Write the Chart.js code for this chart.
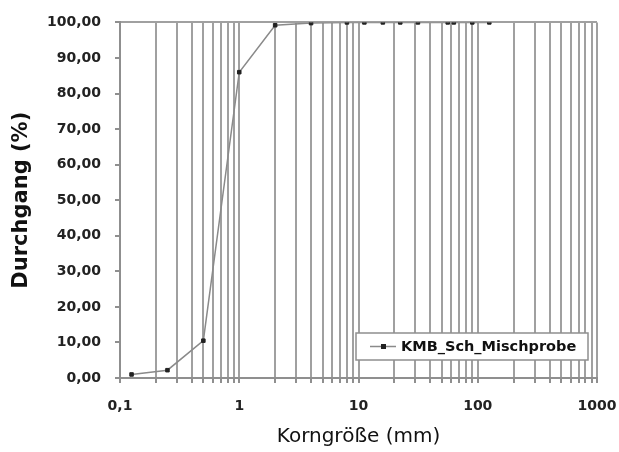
<!DOCTYPE html>
<html>
<head>
<meta charset="utf-8">
<script src="https://cdn.jsdelivr.net/npm/chart.js@4/dist/chart.umd.min.js"></script>
<style>
  html, body { margin: 0; padding: 0; background: #ffffff; }
  #wrap { width: 619px; height: 452px; }
</style>
</head>
<body>
<div id="wrap"><canvas id="chart" width="619" height="452"></canvas></div>
<script>
// Sieve analysis: passing percentage per grain size (mm)
const seriesName = 'KMB_Sch_Mischprobe';
const grainSizes = [0.125, 0.25, 0.5, 1, 2, 4, 8, 11.2, 16, 22.4, 31.5, 56, 63, 90, 125];
const passing    = [1.0, 2.2, 10.5, 86.0, 99.2, 99.8, 100, 100, 100, 100, 100, 100, 100, 100, 100];

// Axis ranges and tick labels
const xMin = 0.1, xMax = 1000;
const decadeStarts = [0.1, 1, 10, 100];
const decadeSteps = [1, 2, 3, 4, 5, 6, 7, 8, 9];
const xTickLabels = { '0.1': '0,1', '1': '1', '10': '10', '100': '100', '1000': '1000' };
const yTickValues = [0, 10, 20, 30, 40, 50, 60, 70, 80, 90, 100];
const yTickLabels = ['0,00', '10,00', '20,00', '30,00', '40,00', '50,00', '60,00', '70,00', '80,00', '90,00', '100,00'];

const gridGrey = '#a0a0a0';
const axisGrey = '#8f8f8f';
const tickFont = { family: 'DejaVu Sans', size: 14, weight: 'bold' };

// Vertical grid at every 1..9 step of each decade, plus the upper limit
function logTickValues() {
  const vals = [];
  decadeStarts.forEach(d => decadeSteps.forEach(s => vals.push(+(d * s).toPrecision(3))));
  vals.push(xMax);
  return vals;
}

// Framed legend in the lower right of the plot area
const boxLegend = {
  id: 'boxLegend',
  afterDatasetsDraw(chart) {
    const { ctx, chartArea } = chart;
    const w = 232, h = 27;
    const x = chartArea.right - 9 - w;
    const y = chartArea.bottom - 18 - h;
    ctx.save();
    ctx.fillStyle = '#ffffff';
    ctx.fillRect(x, y, w, h);
    ctx.strokeStyle = axisGrey;
    ctx.lineWidth = 1.5;
    ctx.strokeRect(x, y, w, h);
    const my = y + h / 2;
    ctx.strokeStyle = '#8a8a8a';
    ctx.lineWidth = 1.5;
    ctx.beginPath();
    ctx.moveTo(x + 14, my);
    ctx.lineTo(x + 40, my);
    ctx.stroke();
    ctx.fillStyle = '#222222';
    ctx.fillRect(x + 25, my - 2.5, 5, 5);
    ctx.font = 'bold 14.5px "DejaVu Sans"';
    ctx.textBaseline = 'middle';
    ctx.textAlign = 'left';
    ctx.fillStyle = '#111111';
    ctx.fillText(chart.data.datasets[0].label, x + 45, my + 1);
    ctx.restore();
  }
};

new Chart(document.getElementById('chart'), {
  type: 'line',
  data: {
    datasets: [{
      label: seriesName,
      data: grainSizes.map((g, i) => ({ x: g, y: passing[i] })),
      borderColor: '#8a8a8a',
      borderWidth: 1.5,
      tension: 0,
      pointStyle: 'rect',
      pointRadius: 2.5,
      pointBackgroundColor: '#222222',
      pointBorderColor: '#222222',
      pointBorderWidth: 1
    }]
  },
  options: {
    responsive: false,
    animation: false,
    layout: { padding: { left: 0, right: 22, top: 20, bottom: 0 } },
    plugins: {
      legend: { display: false },
      tooltip: { enabled: false }
    },
    scales: {
      x: {
        type: 'logarithmic',
        min: xMin,
        max: xMax,
        afterBuildTicks(scale) {
          scale.ticks = logTickValues().map(v => ({ value: v }));
        },
        afterFit(scale) {
          scale.height = 74;
          scale.paddingLeft = 0;
          scale.paddingRight = 0;
        },
        border: { display: true, color: axisGrey, width: 2 },
        grid: {
          display: true,
          drawOnChartArea: true,
          drawTicks: true,
          tickLength: 5,
          color: gridGrey,
          tickColor: axisGrey,
          lineWidth: 2
        },
        ticks: {
          autoSkip: false,
          maxRotation: 0,
          minRotation: 0,
          padding: 15,
          color: '#222222',
          font: tickFont,
          callback(value) {
            const key = String(+value.toPrecision(3));
            return xTickLabels[key] !== undefined ? xTickLabels[key] : '';
          }
        },
        title: {
          display: true,
          text: 'Korngröße (mm)',
          color: '#111111',
          font: { family: 'DejaVu Sans', size: 20, weight: 'normal' },
          padding: { top: 0, bottom: 3 }
        }
      },
      y: {
        type: 'linear',
        min: 0,
        max: 100,
        afterBuildTicks(scale) {
          scale.ticks = yTickValues.map(v => ({ value: v }));
        },
        afterFit(scale) { scale.width = 120; },
        border: { display: true, color: axisGrey, width: 2 },
        grid: {
          display: true,
          drawTicks: true,
          tickLength: 5,
          lineWidth: 2,
          color: ctx => (ctx.tick && ctx.tick.value === 100 ? gridGrey : 'rgba(0,0,0,0)'),
          tickColor: axisGrey
        },
        ticks: {
          padding: 14,
          color: '#222222',
          font: tickFont,
          callback(value) {
            const i = yTickValues.indexOf(value);
            return i >= 0 ? yTickLabels[i] : '';
          }
        },
        title: {
          display: true,
          text: 'Durchgang (%)',
          color: '#111111',
          font: { family: 'DejaVu Sans', size: 21, weight: 'bold' },
          padding: { top: 9, bottom: 0 }
        }
      }
    }
  },
  plugins: [boxLegend]
});
</script>
</body>
</html>
